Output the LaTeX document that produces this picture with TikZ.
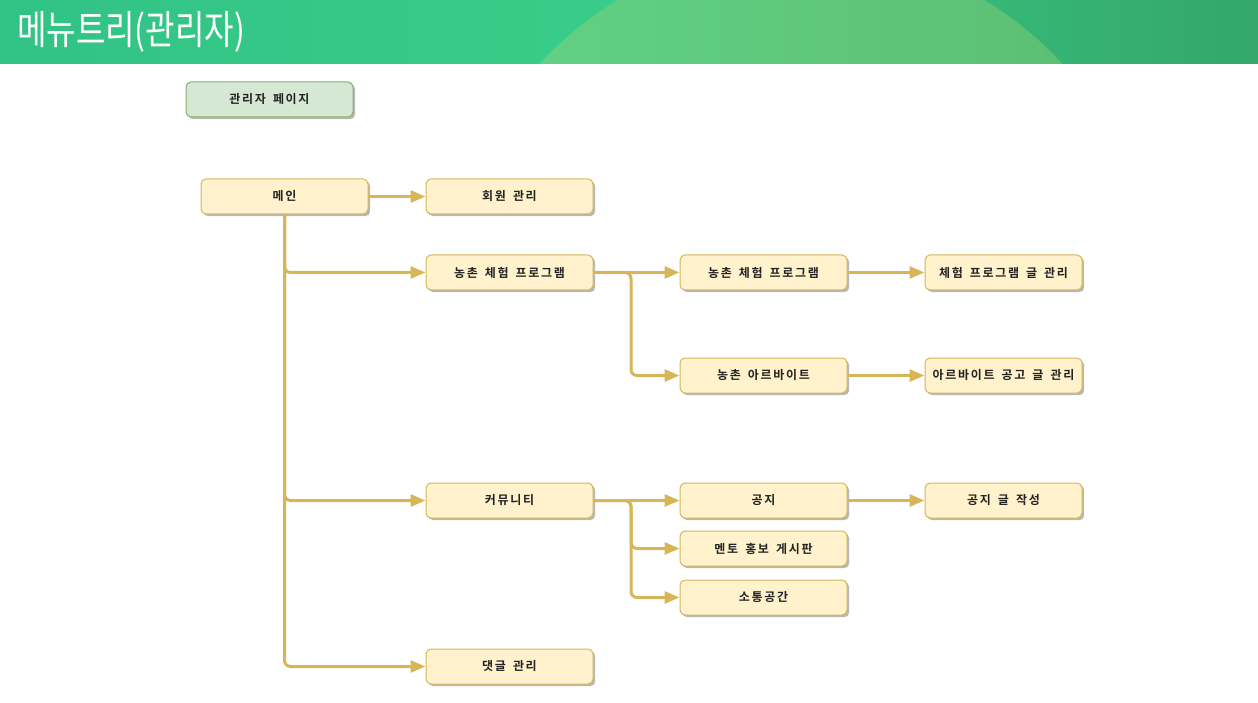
\documentclass[tikz,border=0pt]{standalone}
\usepackage{fontspec}
\newfontfamily\kr[LetterSpace=14,WordSpace=1.6,BoldFont={Noto Sans CJK KR Bold}]{Noto Sans CJK KR}
\newfontfamily\krtitle{Noto Sans CJK KR}
\usetikzlibrary{arrows.meta,shadows}
\definecolor{boxfill}{HTML}{FFF2CC}
\definecolor{boxline}{HTML}{D6B656}
\definecolor{gfill}{HTML}{D5E8D4}
\definecolor{gline}{HTML}{82B366}
\definecolor{hdrL}{HTML}{31C385}
\definecolor{hdrM}{HTML}{38CD89}
\definecolor{hdrR}{HTML}{34A769}
\definecolor{arcL}{HTML}{62D386}
\definecolor{arcR}{HTML}{5BBD70}
\definecolor{txt}{HTML}{222222}
\tikzset{
  menubox/.style={draw=boxline, fill=boxfill, line width=1pt, rounded corners=5pt,
    minimum width=167pt, minimum height=35pt, inner sep=0pt,
    font=\kr\bfseries\fontsize{12}{14}\selectfont, text=txt,
    drop shadow={shadow xshift=2.2pt, shadow yshift=-2.2pt, fill=black!35, opacity=0.8}},
  leafbox/.style={menubox, minimum width=157pt},
  adminbox/.style={menubox, draw=gline, fill=gfill},
  link/.style={draw=boxline, line width=3pt, rounded corners=6pt,
    -{Triangle[length=15pt,width=12pt]}}
}
\begin{document}
\begin{tikzpicture}[x=1pt,y=-1pt]
  \useasboundingbox (0,0) rectangle (1258,703);
  % header band
  \shade[left color=hdrL, right color=hdrR, middle color=hdrM] (0,0) rectangle (1258,64);
  \begin{scope}
    \clip (0,0) rectangle (1258,64);
    \shade[left color=arcL, right color=arcR] (801,304) circle[radius=355];
  \end{scope}
  \node[anchor=west, text=white, inner sep=0pt] (title) at (17,32)
    {\scalebox{0.8}[1]{\krtitle\fontsize{40}{46}\selectfont 메뉴트리(관리자)}};

  % nodes
  \node[adminbox] (admin) at (269.5,99.5) {관리자 페이지};
  \node[menubox] (main) at (284.5,196.5) {메인};
  \node[menubox] (member) at (509.5,196.5) {회원 관리};
  \node[menubox] (farm) at (509.5,272.5) {농촌 체험 프로그램};
  \node[menubox] (farmprog) at (763.5,272.5) {농촌 체험 프로그램};
  \node[leafbox] (progpost) at (1003.5,272.5) {체험 프로그램 글 관리};
  \node[menubox] (job) at (763.5,375.5) {농촌 아르바이트};
  \node[leafbox] (jobpost) at (1003.5,375.5) {아르바이트 공고 글 관리};
  \node[menubox] (comm) at (509.5,500.5) {커뮤니티};
  \node[menubox] (notice) at (763.5,500.5) {공지};
  \node[leafbox] (noticepost) at (1003.5,500.5) {공지 글 작성};
  \node[menubox] (mentor) at (763.5,548.5) {멘토 홍보 게시판};
  \node[menubox] (talk) at (763.5,597.5) {소통공간};
  \node[menubox] (reply) at (509.5,666.5) {댓글 관리};

  % connectors
  \draw[link] (main) -- (member);
  \draw[link] (main.south) |- (farm.west);
  \draw[link] (main.south) |- (comm.west);
  \draw[link] (main.south) |- (reply.west);
  \coordinate (fj) at (631,272.5);
  \draw[link] (farm) -- (farmprog);
  \draw[link] (farm.east) -- (fj) |- (job.west);
  \draw[link] (farmprog) -- (progpost);
  \draw[link] (job) -- (jobpost);
  \coordinate (cj) at (631,500.5);
  \draw[link] (comm) -- (notice);
  \draw[link] (comm.east) -- (cj) |- (mentor.west);
  \draw[link] (comm.east) -- (cj) |- (talk.west);
  \draw[link] (notice) -- (noticepost);
\end{tikzpicture}
\end{document}
